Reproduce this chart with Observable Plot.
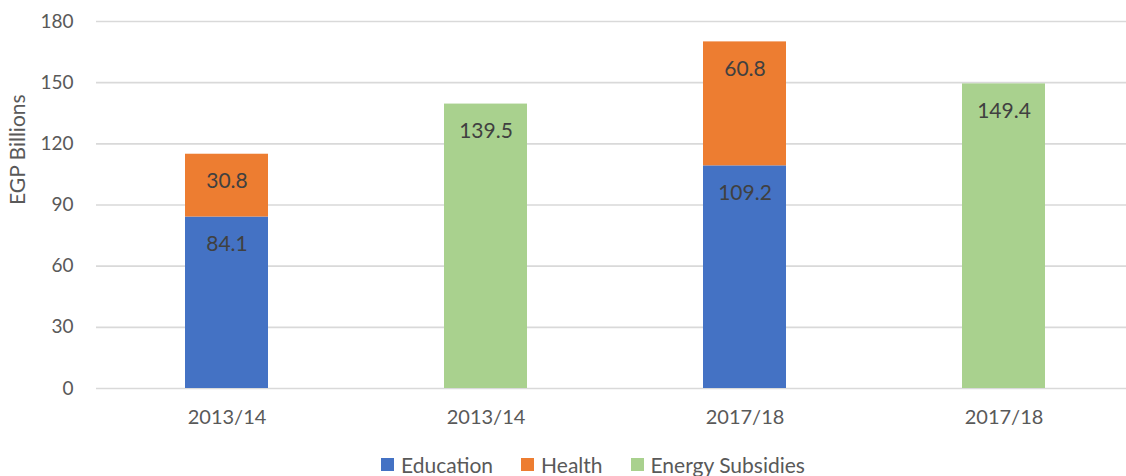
<!DOCTYPE html>
<html>
<head>
<meta charset="utf-8">
<script src="https://cdn.jsdelivr.net/npm/d3@7"></script>
<script src="https://cdn.jsdelivr.net/npm/@observablehq/plot@0.6"></script>
<style>
  html, body { margin: 0; padding: 0; background: #fff; overflow: hidden; width: 1126px; height: 476px; }
  #chart { position: relative; width: 1126px; }
  #chart svg { max-width: none !important; display: block; }
  .legend { position: absolute; left: 0; top: 452px; width: 1126px; display: flex; justify-content: center; padding-left: 60px; box-sizing: border-box; font-family: Lato, "DejaVu Sans", sans-serif; font-size: 21px; color: #595959; }
  .legend .item { display: flex; align-items: center; margin: 0 14px; }
  .legend .sw { width: 13px; height: 13px; margin-right: 7px; }
</style>
</head>
<body>
<div id="chart"></div>
<script>
const xLabels = ["2013/14", "2013/14", "2017/18", "2017/18"];
const seriesNames = ["Education", "Health", "Energy Subsidies"];
const seriesColors = ["#4472C4", "#ED7D31", "#A9D18E"];
const education = [84.1, null, 109.2, null];
const health = [30.8, null, 60.8, null];
const energy = [null, 139.5, null, 149.4];
const yTicks = [0, 30, 60, 90, 120, 150, 180];

const data = [];
[education, health, energy].forEach((vals, s) => {
  vals.forEach((v, i) => { if (v != null) data.push({pos: i, series: seriesNames[s], value: v}); });
});

const fontFamily = 'Lato, "DejaVu Sans", sans-serif';

const plot = Plot.plot({
  width: 1136,
  height: 440,
  marginLeft: 96,
  marginRight: 2,
  marginTop: 21,
  marginBottom: 52,
  style: { fontFamily, fontSize: "19px", color: "#595959", background: "transparent" },
  x: { type: "band", domain: [0, 1, 2, 3], paddingInner: 0.68, paddingOuter: 0.34, label: null, tickSize: 0, tickPadding: 21, tickFormat: i => xLabels[i] },
  y: { domain: [0, 180], ticks: yTicks, tickSize: 0, tickPadding: 23, label: null },
  color: { domain: seriesNames, range: seriesColors },
  marks: [
    Plot.ruleY(yTicks, { stroke: "#d9d9d9", strokeWidth: 1.6 }),
    Plot.barY(data, Plot.stackY({ x: "pos", y: "value", fill: "series", z: "series", order: seriesNames })),
    Plot.textY(data, Plot.stackY2({ x: "pos", y: "value", z: "series", order: seriesNames, text: d => d.value.toFixed(1), dy: 27, fill: "#404040", fontSize: 21 })),
    Plot.text(["EGP Billions"], { frameAnchor: "left", dx: -78, rotate: -90, fontSize: 21, fill: "#595959" })
  ]
});
plot.querySelectorAll("g[aria-label='x-axis tick label'] text").forEach(t => t.setAttribute("font-size", 20));
document.getElementById("chart").appendChild(plot);

const legend = document.createElement("div");
legend.className = "legend";
seriesNames.forEach((n, i) => {
  const it = document.createElement("div");
  it.className = "item";
  const sw = document.createElement("div");
  sw.className = "sw";
  sw.style.background = seriesColors[i];
  const t = document.createElement("span");
  t.textContent = n;
  it.appendChild(sw); it.appendChild(t);
  legend.appendChild(it);
});
document.getElementById("chart").appendChild(legend);
</script>
</body>
</html>
